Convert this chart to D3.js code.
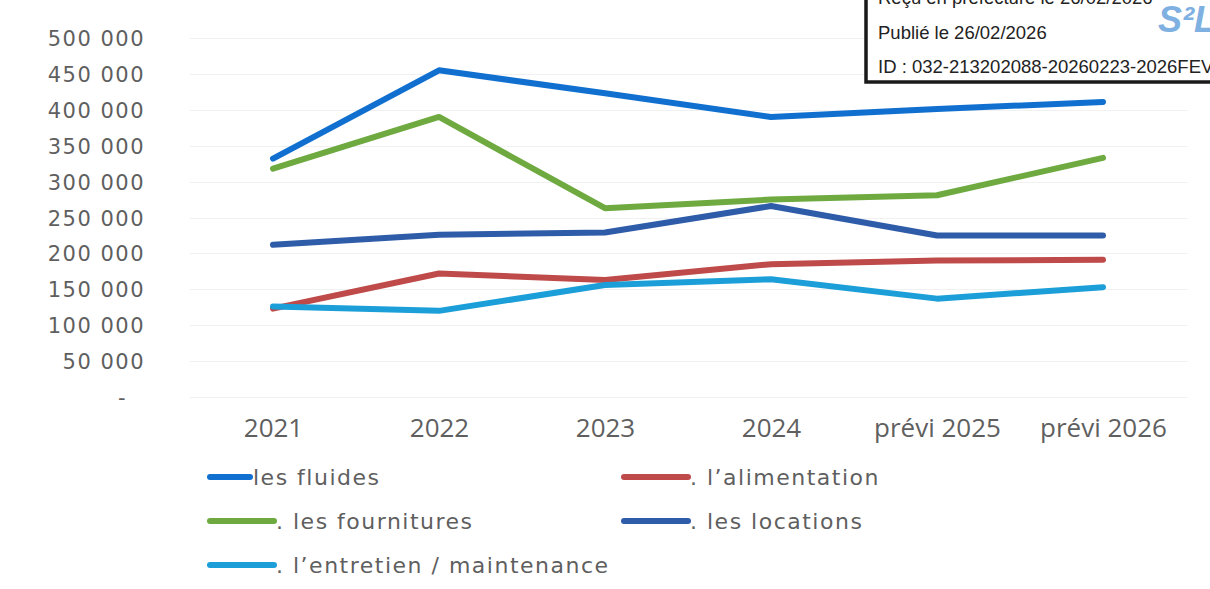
<!DOCTYPE html>
<html>
<head>
<meta charset="utf-8">
<script src="https://cdn.jsdelivr.net/npm/d3@7"></script>
<style>
  body { margin: 0; background: #fff; }
  svg { display: block; }
  .y-axis text { font-family: "DejaVu Sans", sans-serif; font-size: 21px; letter-spacing: 1.5px; fill: #5f5f5f; }
  .x-axis text { font-family: "Open Sans", sans-serif; font-size: 26px; fill: #5f5f5f; }
  .legend text { font-family: "DejaVu Sans", sans-serif; font-size: 22px; letter-spacing: 1.5px; fill: #5f5f5f; }
  .stamp text { font-family: "Liberation Sans", Arial, sans-serif; font-size: 18.5px; fill: #222; }
</style>
</head>
<body>
<div id="chart"></div>
<script>
// Données
const annees = ["2021", "2022", "2023", "2024", "prévi 2025", "prévi 2026"];
const fluides = [332000, 455000, 423000, 390000, 401000, 411000];
const alimentation = [123000, 172000, 163000, 185000, 190000, 191000];
const fournitures = [318000, 390000, 263000, 275000, 281000, 333000];
const locations = [212000, 226000, 229000, 266000, 225000, 225000];
const entretien = [126000, 120000, 156000, 164000, 137000, 153000];
const yTicks = [0, 50000, 100000, 150000, 200000, 250000, 300000, 350000, 400000, 450000, 500000];

const series = [
    { nom: "les fluides", valeurs: fluides, couleur: "#1170cf" },
    { nom: ". l\u2019alimentation", valeurs: alimentation, couleur: "#bf4a4a" },
    { nom: ". les fournitures", valeurs: fournitures, couleur: "#6eaa40" },
    { nom: ". les locations", valeurs: locations, couleur: "#2f5ca8" },
    { nom: ". l\u2019entretien / maintenance", valeurs: entretien, couleur: "#1c9fd8" }
];

const width = 1210;
const height = 589;

const svg = d3.select("#chart").append("svg")
    .attr("width", width)
    .attr("height", height);

const x = d3.scalePoint()
    .domain(annees)
    .range([190, 1186])
    .padding(0.5);

const y = d3.scaleLinear()
    .domain([0, 500000])
    .range([397, 38]);

const fr = d3.formatLocale({ decimal: ",", thousands: " ", grouping: [3], currency: ["", " €"] });
const fmt = fr.format(",");

// Grille
svg.append("g")
    .selectAll("line")
    .data(yTicks)
    .enter().append("line")
    .attr("x1", 190)
    .attr("x2", 1188)
    .attr("y1", d => Math.round(y(d)) + 0.5)
    .attr("y2", d => Math.round(y(d)) + 0.5)
    .attr("stroke", "#f1f1f1")
    .attr("stroke-width", 1);

// Axe Y
const yAxis = svg.append("g")
    .attr("class", "y-axis")
    .attr("transform", "translate(145,0)")
    .call(d3.axisLeft(y).tickValues(yTicks).tickSize(0).tickPadding(0)
        .tickFormat(d => d === 0 ? "-" : fmt(d)));
yAxis.select(".domain").remove();
yAxis.selectAll("text").attr("dy", "0.36em")
    .filter(d => d === 0).attr("dx", -18);

// Axe X
const xAxis = svg.append("g")
    .attr("class", "x-axis")
    .attr("transform", "translate(0,397)")
    .call(d3.axisBottom(x).tickSize(0).tickPadding(22));
xAxis.select(".domain").remove();

// Lignes
const line = d3.line()
    .x((d, i) => x(annees[i]))
    .y(d => y(d));

svg.append("g")
    .selectAll("path")
    .data(series)
    .enter().append("path")
    .attr("d", d => line(d.valeurs))
    .attr("fill", "none")
    .attr("stroke", d => d.couleur)
    .attr("stroke-width", 6)
    .attr("stroke-linejoin", "round")
    .attr("stroke-linecap", "round");

// Légende
const legendPos = [[208, 477], [622, 477], [208, 521], [622, 521], [208, 565]];
const legend = svg.append("g")
    .attr("class", "legend")
    .selectAll("g")
    .data(series)
    .enter().append("g")
    .attr("transform", (d, i) => `translate(${legendPos[i][0]},${legendPos[i][1]})`);

legend.append("line")
    .attr("x1", 2)
    .attr("x2", d => d.nom.startsWith(".") ? 66 : 42)
    .attr("y1", 0)
    .attr("y2", 0)
    .attr("stroke", d => d.couleur)
    .attr("stroke-width", 6)
    .attr("stroke-linecap", "round");

legend.append("text")
    .attr("x", d => d.nom.startsWith(".") ? 68 : 45)
    .attr("dy", "0.36em")
    .text(d => d.nom);

// Tampon préfecture
const stamp = svg.append("g").attr("class", "stamp");
stamp.append("rect")
    .attr("x", 866)
    .attr("y", -10)
    .attr("width", 360)
    .attr("height", 92)
    .attr("fill", "#fff")
    .attr("stroke", "#1a1a1a")
    .attr("stroke-width", 3.5);
stamp.append("text").attr("x", 878).attr("y", 4).text("Reçu en préfecture le 26/02/2026");
stamp.append("text").attr("x", 878).attr("y", 39).text("Publié le 26/02/2026");
stamp.append("text").attr("x", 878).attr("y", 73).text("ID : 032-213202088-20260223-2026FEV");
stamp.append("text")
    .attr("x", 1158)
    .attr("y", 32)
    .style("font-family", "'Liberation Sans', sans-serif")
    .style("font-size", "36px")
    .style("font-weight", "bold")
    .style("font-style", "italic")
    .style("fill", "#7eb0e2")
    .text("S²L");
</script>
</body>
</html>
